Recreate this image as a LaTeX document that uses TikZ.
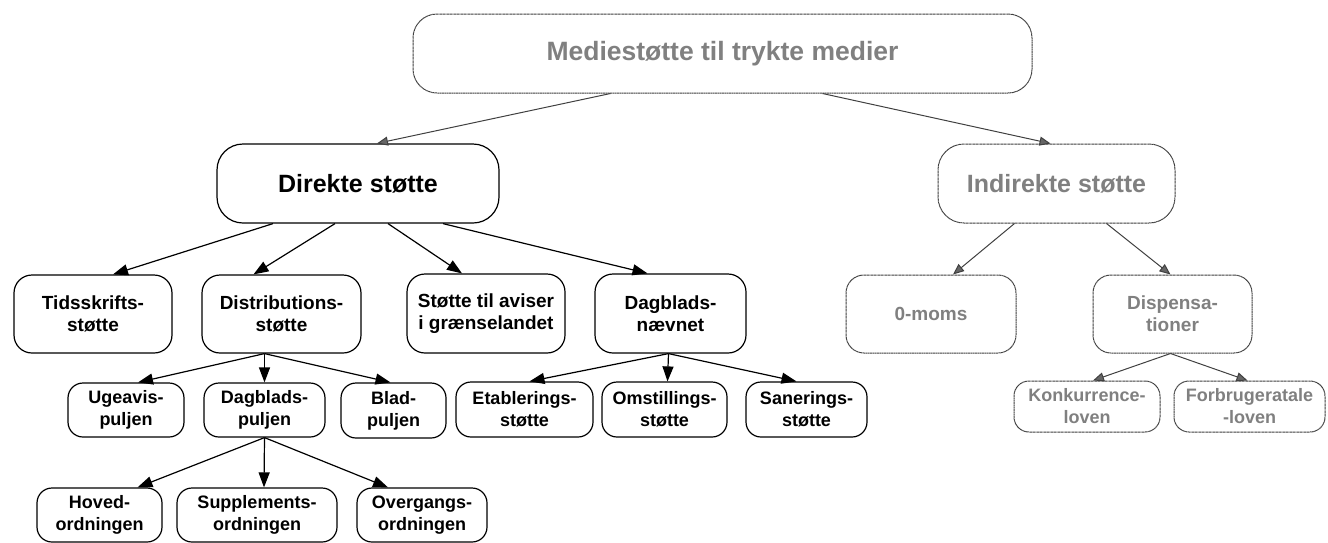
\documentclass[tikz,border=0pt]{standalone}
\usepackage{fontspec}
\setmainfont{Liberation Sans}
\usetikzlibrary{arrows.meta}
\definecolor{gtxt}{HTML}{808080}
\definecolor{gline}{HTML}{404040}
\tikzset{
  bx/.style={draw=black, line width=1.2pt, fill=white, inner sep=0pt, align=center, font=\bfseries, text=black},
  gbx/.style={draw=gline, line width=1pt, dash pattern=on 1pt off 0.4pt, fill=white, inner sep=0pt, align=center, font=\bfseries, text=gtxt},
  big/.style={font=\fontsize{25}{28}\bfseries\selectfont},
  ttl/.style={font=\fontsize{26.5}{28}\bfseries\selectfont},
  mid/.style={font=\fontsize{19}{22}\bfseries\selectfont},
  sml/.style={font=\fontsize{18}{22}\bfseries\selectfont},
  arr/.style={draw=black, line width=1.2pt, -{Triangle[length=15pt,width=11pt]}},
  garr/.style={draw=gline, line width=1pt, -{Triangle[length=11pt,width=9pt,fill=gline!80]}},
}
\begin{document}
\begin{tikzpicture}[x=1pt,y=-1pt]
\useasboundingbox (0,0) rectangle (1328,542);
% top
\node[gbx,ttl,rounded corners=24pt,minimum width=619pt,minimum height=79pt] (top) at (722.5,53.5) {Mediestøtte til trykte medier};
% level 1
\node[bx,big,rounded corners=26pt,minimum width=282pt,minimum height=79pt] (dir) at (358,183.5) {Direkte støtte};
\node[gbx,big,rounded corners=26pt,minimum width=237pt,minimum height=79pt] (ind) at (1056.5,183.5) {Indirekte støtte};
% level 2 left
\node[bx,mid,rounded corners=18pt,minimum width=158pt,minimum height=78pt] (tid) at (93,314) {Tidsskrifts-\\støtte};
\node[bx,mid,rounded corners=18pt,minimum width=159pt,minimum height=78pt] (dis) at (281.5,314) {Distributions-\\støtte};
\node[bx,mid,rounded corners=18pt,minimum width=158pt,minimum height=79pt] (gra) at (486,313.5) {Støtte til aviser\\i grænselandet};
\node[bx,mid,rounded corners=18pt,minimum width=151pt,minimum height=79pt] (nae) at (670.5,313.5) {Dagblads-\\nævnet};
% level 2 right
\node[gbx,mid,rounded corners=18pt,minimum width=170pt,minimum height=78pt] (mom) at (931,314) {0-moms};
\node[gbx,mid,rounded corners=18pt,minimum width=159pt,minimum height=78pt] (dsp) at (1172.5,314) {Dispensa-\\tioner};
% level 3
\node[bx,sml,rounded corners=15pt,minimum width=116pt,minimum height=54pt] (uge) at (126,410) {Ugeavis-\\puljen};
\node[bx,sml,rounded corners=15pt,minimum width=121pt,minimum height=54pt] (dpu) at (264.5,410) {Dagblads-\\puljen};
\node[bx,sml,rounded corners=15pt,minimum width=105pt,minimum height=55pt] (bla) at (393.5,410.5) {Blad-\\puljen};
\node[bx,sml,rounded corners=15pt,minimum width=137pt,minimum height=55pt] (eta) at (524.5,409.5) {Etablerings-\\støtte};
\node[bx,sml,rounded corners=15pt,minimum width=125pt,minimum height=55pt] (oms) at (664.5,409.5) {Omstillings-\\støtte};
\node[bx,sml,rounded corners=15pt,minimum width=121pt,minimum height=55pt] (san) at (806.5,409.5) {Sanerings-\\støtte};
\node[gbx,sml,rounded corners=15pt,minimum width=146pt,minimum height=51pt] (kon) at (1087,406.5) {Konkurrence-\\loven};
\node[gbx,sml,rounded corners=15pt,minimum width=151pt,minimum height=51pt] (for) at (1249.5,406.5) {Forbrugeratale\\-loven};
% level 4
\node[bx,sml,rounded corners=15pt,minimum width=125pt,minimum height=54pt] (hov) at (99.5,515) {Hoved-\\ordningen};
\node[bx,sml,rounded corners=15pt,minimum width=160pt,minimum height=54pt] (sup) at (257,515) {Supplements-\\ordningen};
\node[bx,sml,rounded corners=15pt,minimum width=130pt,minimum height=54pt] (ove) at (422,515) {Overgangs-\\ordningen};
% gray arrows
\draw[garr] ([xshift=-112pt]top.south) -- ([xshift=19pt]dir.north);
\draw[garr] ([xshift=100pt]top.south) -- ([xshift=-6pt]ind.north);
\draw[garr] ([xshift=-42pt]ind.south) -- ([xshift=22pt]mom.north);
\draw[garr] ([xshift=50pt]ind.south) -- ([xshift=-2pt]dsp.north);
\draw[garr] ([xshift=-2pt]dsp.south) -- ([xshift=6pt]kon.north);
\draw[garr] ([xshift=-2pt]dsp.south) -- ([xshift=-2pt]for.north);
% black arrows
\draw[arr] ([xshift=-85pt]dir.south) -- ([xshift=20pt]tid.north);
\draw[arr] ([xshift=-23pt]dir.south) -- ([xshift=-28pt]dis.north);
\draw[arr] ([xshift=30pt]dir.south) -- ([xshift=-24pt]gra.north);
\draw[arr] ([xshift=85pt]dir.south) -- ([xshift=-23pt]nae.north);
\draw[arr] ([xshift=-17pt]dis.south) -- ([xshift=12pt]uge.north);
\draw[arr] ([xshift=-17pt]dis.south) -- (dpu.north);
\draw[arr] ([xshift=-17pt]dis.south) -- ([xshift=-3pt]bla.north);
\draw[arr] (dpu.south) -- ([xshift=38pt]hov.north);
\draw[arr] (dpu.south) -- ([xshift=7pt]sup.north);
\draw[arr] (dpu.south) -- ([xshift=-34pt]ove.north);
\draw[arr] ([xshift=-2pt]nae.south) -- ([xshift=5pt]eta.north);
\draw[arr] ([xshift=-2pt]nae.south) -- ([xshift=3pt]oms.north);
\draw[arr] ([xshift=-2pt]nae.south) -- ([xshift=-10pt]san.north);
\end{tikzpicture}
\end{document}
